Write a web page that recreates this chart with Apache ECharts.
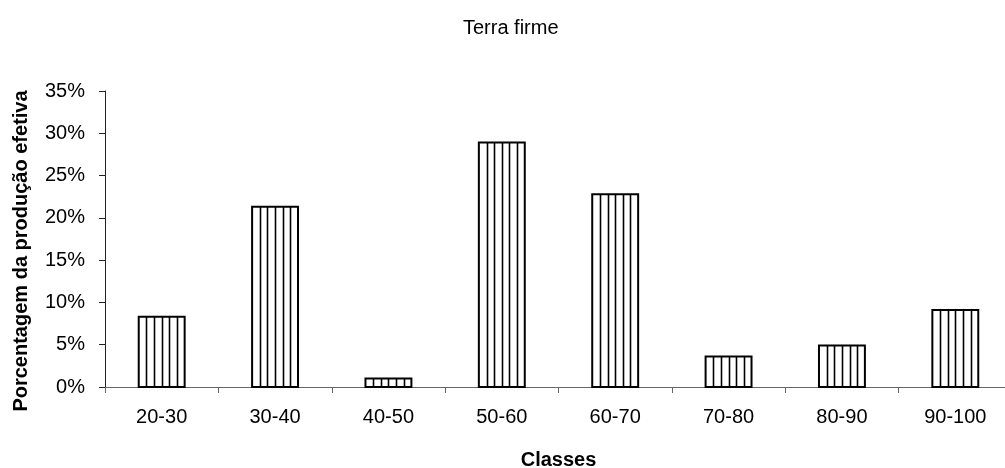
<!DOCTYPE html>
<html>
<head>
<meta charset="utf-8">
<script src="https://cdn.jsdelivr.net/npm/echarts@6/dist/echarts.min.js"></script>
<style>
  html, body { margin: 0; padding: 0; background: #fff; }
  #chart { width: 1005px; height: 468px; }
</style>
</head>
<body>
<div id="chart"></div>
<script>
// Distribution of effective production by diameter class
const categories = ['20-30', '30-40', '40-50', '50-60', '60-70', '70-80', '80-90', '90-100'];
const percentValues = [8.3, 21.3, 1.0, 28.9, 22.8, 3.6, 4.9, 9.1];
const yTicks = [0, 5, 10, 15, 20, 25, 30, 35];

const FONT = 'Liberation Sans, Arial, sans-serif';
const chart = echarts.init(document.getElementById('chart'));

// Bars drawn as outlined rectangles with vertical hatch lines
function renderHatchedBar(params, api) {
  const idx = api.value(0);
  const val = api.value(1);
  const top = api.coord([idx, val]);
  const base = api.coord([idx, 0]);
  const bandW = api.size([1, 0])[0];
  const w = bandW * 0.405;
  const x0 = top[0] - w / 2;
  const y0 = top[1];
  const h = base[1] - top[1];
  const cols = 6;
  const children = [{
    type: 'rect',
    shape: { x: x0, y: y0, width: w, height: h },
    style: { fill: '#fff', stroke: '#000', lineWidth: 2 }
  }];
  for (let i = 1; i < cols; i++) {
    const lx = Math.round(x0 + (w * i) / cols) + 0.5;
    children.push({
      type: 'line',
      shape: { x1: lx, y1: y0, x2: lx, y2: y0 + h },
      style: { stroke: '#000', lineWidth: 1.6 }
    });
  }
  return { type: 'group', children };
}

chart.setOption({
  animation: false,
  backgroundColor: '#fff',
  title: {
    text: 'Terra firme',
    left: 458,
    top: 13,
    textStyle: { fontFamily: FONT, fontSize: 20, fontWeight: 'normal', color: '#000' }
  },
  grid: { left: 105, right: -7, top: 91, bottom: 81, containLabel: false, outerBoundsMode: 'none' },
  xAxis: {
    type: 'category',
    data: categories,
    name: 'Classes',
    nameLocation: 'middle',
    nameGap: 63,
    nameTextStyle: { fontFamily: FONT, fontSize: 20, fontWeight: 'bold', color: '#000' },
    axisLine: { lineStyle: { color: '#666', width: 1 } },
    axisTick: { show: true, inside: false, length: 6, alignWithLabel: false, lineStyle: { color: '#666' } },
    axisLabel: { fontFamily: FONT, fontSize: 20, color: '#000', margin: 20 },
    splitLine: { show: false }
  },
  yAxis: {
    type: 'value',
    min: yTicks[0],
    max: yTicks[yTicks.length - 1],
    interval: 5,
    name: 'Porcentagem da produção efetiva',
    nameLocation: 'middle',
    nameGap: 74,
    nameRotate: 90,
    nameTextStyle: { fontFamily: FONT, fontSize: 20, fontWeight: 'bold', color: '#000', padding: [0, 24, 0, 0] },
    axisLine: { show: true, lineStyle: { color: '#222', width: 1 } },
    axisTick: { show: true, length: 6, lineStyle: { color: '#222' } },
    axisLabel: { fontFamily: FONT, fontSize: 20, color: '#000', margin: 20, formatter: v => v + '%' },
    splitLine: { show: false }
  },
  series: [{
    type: 'custom',
    renderItem: renderHatchedBar,
    encode: { x: 0, y: 1 },
    data: percentValues.map((v, i) => [i, v])
  }]
});
</script>
</body>
</html>
